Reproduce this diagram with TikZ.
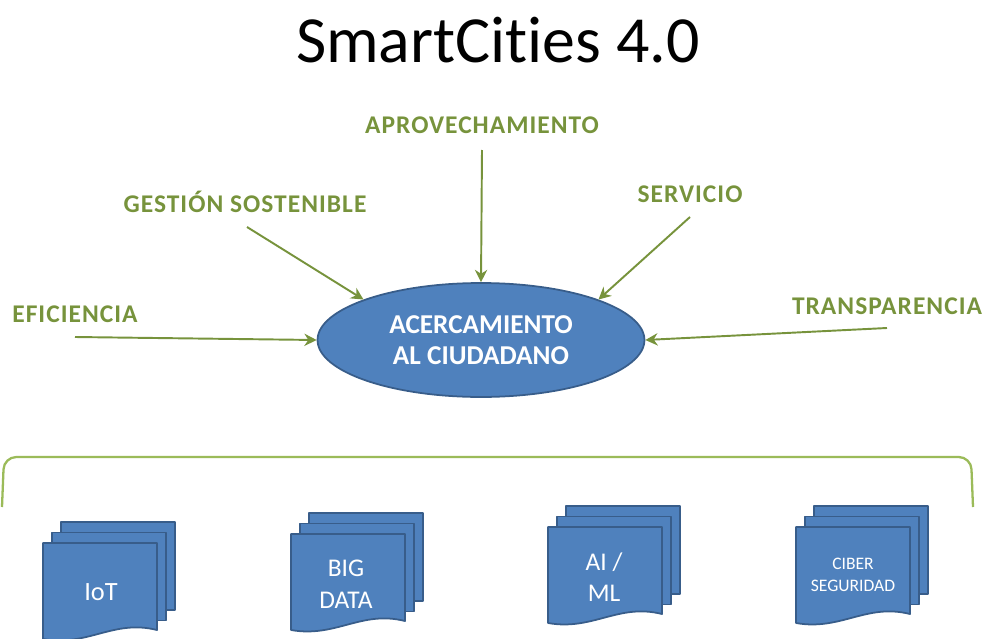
\documentclass[tikz,border=0pt]{standalone}
\usepackage{fontspec}
\setmainfont{Carlito}[RawFeature={-liga;-clig;-calt;-dlig}]
\usetikzlibrary{arrows.meta,shapes.geometric}

\definecolor{oliva}{HTML}{77933C}
\definecolor{verdeclaro}{HTML}{9BBB59}
\definecolor{azul}{HTML}{4F81BD}
\definecolor{azulborde}{HTML}{385D8A}

\tikzset{
  etiqueta/.style={text=oliva, font=\fontsize{14.5}{16}\selectfont\bfseries\addfontfeatures{LetterSpace=4}, anchor=base, inner sep=0pt},
  flecha/.style={oliva, line width=1.1pt, -{Stealth[length=7pt,width=7pt]}},
  hoja/.style={fill=azul, draw=azulborde, line width=1pt, line join=round},
  textohoja/.style={text=white, align=center, inner sep=0pt},
  % tres hojas apiladas, la de delante con el borde ondulado
  pics/pila/.style={code={
    \draw[hoja] (18,-21) rectangle ++(114,88);
    \draw[hoja] (9,-10.5) rectangle ++(114,88);
    \draw[hoja] (0,0) -- (114,0) -- (114,87) .. controls (70,76) and (45,104) .. (0,96) -- cycle;
  }}
}

\begin{document}
\begin{tikzpicture}[x=0.02cm, y=-0.02cm]
    \useasboundingbox (0,0) rectangle (984,639);

    % Título
    \node[anchor=base, inner sep=0pt, font=\fontsize{37.5}{40}\selectfont] (titulo) at (498,62) {SmartCit\kern0pt ies 4.0};

    % Elipse central
    \node[ellipse, fill=azul, draw=azulborde, line width=1pt, minimum width=6.54cm, minimum height=2.28cm,
          text=white, align=center, font=\fontsize{15.5}{18}\selectfont\bfseries] (centro) at (481,340)
          {ACERCAMIENTO\\AL CIUDADANO};

    % Etiquetas
    \node[etiqueta] (efi) at (75,322) {EFICIENCIA};
    \node[etiqueta] (gest) at (245,212) {GESTIÓN SOSTENIBLE};
    \node[etiqueta] (aprov) at (482,133) {APROVECHAMIENTO};
    \node[etiqueta] (serv) at (690,202) {SERVICIO};
    \node[etiqueta] (transp) at (887,314) {TRANSPARENCIA};

    % Flechas hacia la elipse
    \coordinate (efi-o) at (75,337);
    \coordinate (gest-o) at (247,227);
    \coordinate (aprov-o) at (482,150);
    \coordinate (serv-o) at (690,217);
    \coordinate (transp-o) at (887,328);
    \draw[flecha] (efi-o) -- (centro.180);
    \draw[flecha] (gest-o) -- (centro.161);
    \draw[flecha] (aprov-o) -- (centro.90);
    \draw[flecha] (serv-o) -- (centro.19);
    \draw[flecha] (transp-o) -- (centro.0);

    % Llave
    \draw[verdeclaro, line width=1.3pt, rounded corners=7pt] (2,507) -- (4,457) -- (971,457) -- (973,507);

    % Pilas de documentos
    \pic at (43,543) {pila};
    \pic at (291,534) {pila};
    \pic at (548,527) {pila};
    \pic at (796,527) {pila};

    \node[textohoja, font=\fontsize{15}{18}\selectfont] (iot) at (101,592) {IoT};
    \node[textohoja, font=\fontsize{14.5}{18}\selectfont] (bigdata) at (346,584) {BIG\\DATA};
    \node[textohoja, font=\fontsize{14.5}{17.5}\selectfont] (aiml) at (604,577) {AI /\\ML};
    \node[textohoja, font=\fontsize{10}{12.5}\selectfont] (ciber) at (853,575) {CIBER\\SEGURIDAD};
\end{tikzpicture}
\end{document}
